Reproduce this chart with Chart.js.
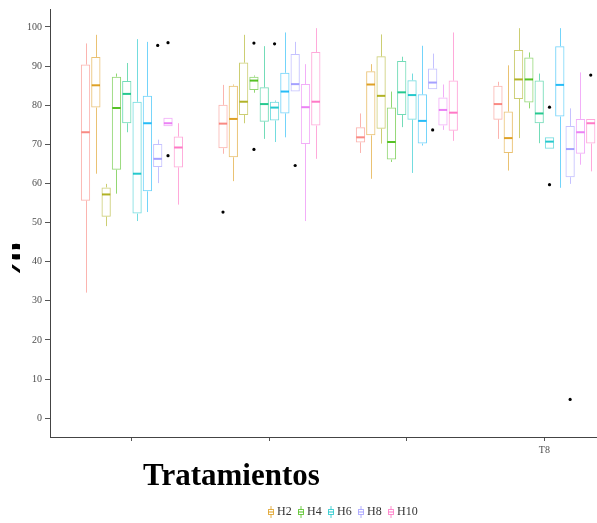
<!DOCTYPE html>
<html>
<head>
<meta charset="utf-8">
<script src="https://cdn.jsdelivr.net/npm/chart.js@4.4.1/dist/chart.umd.min.js"></script>
<style>
  html, body { margin: 0; padding: 0; background: #fff; overflow: hidden; }
  #wrap { position: relative; width: 597px; height: 523px; overflow: hidden; }
  #chart { position: absolute; left: 0; top: 0; }
  #y-clip { position: absolute; left: 12px; top: 230px; width: 8px; height: 70px; overflow: hidden; }
  #y-title { position: absolute; left: -33px; top: 9px; width: 50px; height: 50px; line-height: 50px; text-align: center;
    font: bold 50px "Liberation Serif", serif; transform: rotate(-90deg); color: #000; }
  #x-title { position: absolute; left: 143px; top: 457px; font: bold 31px "Liberation Serif", serif; color: #000; }
  #legend { position: absolute; left: 268px; top: 504px; display: flex; font: 12px "Liberation Serif", serif; color: #333; }
  #legend .item { display: flex; align-items: center; width: 30px; }
  #legend svg { margin-right: 3px; }
</style>
</head>
<body>
<div id="wrap">
  <canvas id="chart" width="597" height="523"></canvas>
  <div id="y-clip"><div id="y-title">%</div></div>
  <div id="x-title">Tratamientos</div>
  <div id="legend"></div>
</div>
<script>
// groups on the x axis (only the last label is readable in the picture)
const treatments = [1, 2, 3, 4];
const tickLabels = ["", "", "", "T8"];
const series = ["H1", "H2", "H3", "H4", "H5", "H6", "H7", "H8", "H9", "H10"];
const legendShown = ["H2", "H4", "H6", "H8", "H10"];

// one row per series, one value per treatment
const lowWhisker = [
  [32.1, 67.6, 67.8, 71.4],
  [62.5, 60.6, 61.2, 63.3],
  [49.1, 75.4, 70.2, 71.6],
  [57.4, 83.2, 65.5, 79.2],
  [73.1, 71.4, 74.4, 70.3],
  [50.4, 70.6, 62.7, 68.9],
  [52.7, 71.8, 69.7, 58.9],
  [60.1, 83.5, 84.1, 59.9],
  [74.6, 50.4, 73.7, 64.8],
  [54.6, 66.3, 70.9, 63.1],
];
const q1 = [
  [55.6, 69.0, 70.5, 76.3],
  [79.4, 66.7, 72.3, 67.8],
  [51.5, 77.5, 74.0, 81.6],
  [63.5, 83.9, 66.1, 80.7],
  [75.4, 75.8, 77.5, 75.4],
  [52.3, 76.1, 76.3, 68.9],
  [58.0, 77.9, 70.2, 77.1],
  [64.2, 83.5, 84.1, 61.6],
  [74.6, 70.1, 74.8, 67.6],
  [64.1, 74.8, 73.5, 70.2],
];
const median = [
  [73.1, 75.3, 71.8, 80.3],
  [85.1, 76.5, 85.3, 71.6],
  [57.2, 80.9, 82.4, 86.6],
  [79.3, 86.3, 70.6, 86.6],
  [82.9, 80.3, 83.3, 77.9],
  [62.5, 79.4, 82.6, 70.7],
  [75.4, 83.5, 76.0, 85.2],
  [66.3, 85.4, 85.8, 68.8],
  [75.4, 79.5, 78.8, 73.1],
  [69.2, 80.9, 78.1, 75.4],
];
const q3 = [
  [90.4, 80.1, 74.4, 85.0],
  [92.3, 85.0, 88.7, 78.4],
  [59.0, 90.9, 92.5, 94.1],
  [87.3, 87.3, 79.4, 92.2],
  [86.2, 84.6, 91.3, 86.3],
  [80.9, 80.9, 86.4, 71.8],
  [82.4, 88.3, 82.8, 95.1],
  [70.1, 93.1, 89.4, 74.7],
  [76.8, 85.4, 82.0, 76.5],
  [72.0, 93.6, 86.3, 76.5],
];
const highWhisker = [
  [95.8, 85.2, 77.9, 86.0],
  [98.0, 85.3, 90.5, 90.2],
  [59.9, 98.0, 98.1, 99.7],
  [88.1, 87.6, 83.5, 93.5],
  [90.8, 95.1, 92.4, 88.1],
  [96.9, 81.2, 88.1, 71.8],
  [96.2, 98.6, 95.2, 99.7],
  [71.2, 96.2, 93.2, 79.2],
  [76.8, 90.5, 85.3, 88.4],
  [75.4, 99.7, 98.6, 76.5],
];
const outliers = [
  [[], [52.7], [], []],
  [[], [], [], []],
  [[], [], [], []],
  [[], [95.9, 68.7], [], []],
  [[], [], [], []],
  [[], [95.7], [], [79.5, 59.7]],
  [[], [], [], []],
  [[95.3], [64.6], [73.7], [4.8]],
  [[96.0, 67.1], [], [], []],
  [[], [], [], [87.7]],
];

const hues = ["248,118,109", "216,144,0", "163,165,0", "57,182,0", "0,191,125",
  "0,191,196", "0,176,246", "149,144,255", "231,107,243", "255,98,188"];

const datasets = series.map((name, i) => ({
  label: name,
  data: treatments.map((t, j) => ({ x: t, y: [q1[i][j], q3[i][j]] })),
  backgroundColor: "rgba(255,255,255,0)",
  borderColor: `rgba(${hues[i]},0.55)`,
  medianColor: `rgba(${hues[i]},0.85)`,
  borderWidth: 1,
  borderSkipped: false,
  categoryPercentage: 0.75,
  barPercentage: 0.9,
}));

// whiskers, medians and outlier dots on top of the floating bars
const boxExtras = {
  id: "boxExtras",
  afterDatasetsDraw(chart) {
    const ctx = chart.ctx;
    const y = chart.scales.y;
    chart.data.datasets.forEach((ds, i) => {
      chart.getDatasetMeta(i).data.forEach((bar, j) => {
        const x = Math.round(bar.x) + 0.5;
        const half = bar.width / 2;
        ctx.save();
        ctx.strokeStyle = ds.borderColor;
        ctx.lineWidth = 1;
        ctx.beginPath();
        ctx.moveTo(x, y.getPixelForValue(q3[i][j]));
        ctx.lineTo(x, y.getPixelForValue(highWhisker[i][j]));
        ctx.moveTo(x, y.getPixelForValue(q1[i][j]));
        ctx.lineTo(x, y.getPixelForValue(lowWhisker[i][j]));
        ctx.stroke();
        ctx.strokeStyle = ds.medianColor;
        ctx.lineWidth = 2;
        ctx.beginPath();
        const ym = y.getPixelForValue(median[i][j]);
        ctx.moveTo(bar.x - half + 0.5, ym);
        ctx.lineTo(bar.x + half - 0.5, ym);
        ctx.stroke();
        ctx.fillStyle = "#000";
        outliers[i][j].forEach((v) => {
          ctx.beginPath();
          ctx.arc(bar.x, y.getPixelForValue(v), 1.6, 0, Math.PI * 2);
          ctx.fill();
        });
        ctx.restore();
      });
    });
  },
};

new Chart(document.getElementById("chart"), {
  type: "bar",
  data: { datasets },
  options: {
    responsive: false,
    animation: false,
    layout: { padding: { top: 7, right: 0, left: 0, bottom: 0 } },
    plugins: { legend: { display: false }, tooltip: { enabled: false } },
    scales: {
      x: {
        type: "linear",
        min: 0.404,
        max: 4.383,
        offset: false,
        afterFit: (scale) => { scale.height = 86; },
        grid: { offset: false, drawOnChartArea: false, tickLength: 4, color: "#555" },
        border: { display: true, color: "#444", width: 1 },
        ticks: {
          stepSize: 1,
          includeBounds: false,
          autoSkip: false,
          maxRotation: 0,
          padding: 3,
          color: "#4d4d4d",
          font: { family: "Liberation Serif", size: 10 },
          callback: (v) => tickLabels[treatments.indexOf(v)] ?? "",
        },
      },
      y: {
        min: -4.8,
        max: 104.6,
        afterFit: (scale) => { scale.width = 50; },
        grid: { drawOnChartArea: false, tickLength: 5, color: "#555" },
        border: { display: true, color: "#444", width: 1 },
        ticks: {
          stepSize: 10,
          includeBounds: false,
          padding: 3,
          color: "#4d4d4d",
          font: { family: "Liberation Serif", size: 10 },
        },
      },
    },
  },
  plugins: [boxExtras],
});

// legend with small boxplot glyphs
const legendDiv = document.getElementById("legend");
legendShown.forEach((name) => {
  const c = hues[series.indexOf(name)];
  legendDiv.innerHTML += `
    <div class="item">
      <svg width="6" height="12">
        <line x1="3" y1="0" x2="3" y2="12" stroke="rgba(${c},0.7)" stroke-width="1"/>
        <rect x="0.5" y="3.5" width="5" height="5" fill="#fff" stroke="rgba(${c},0.7)" stroke-width="1"/>
        <line x1="0.5" y1="6" x2="5.5" y2="6" stroke="rgba(${c},0.9)" stroke-width="1"/>
      </svg>
      <span>${name}</span>
    </div>`;
});
</script>
</body>
</html>
